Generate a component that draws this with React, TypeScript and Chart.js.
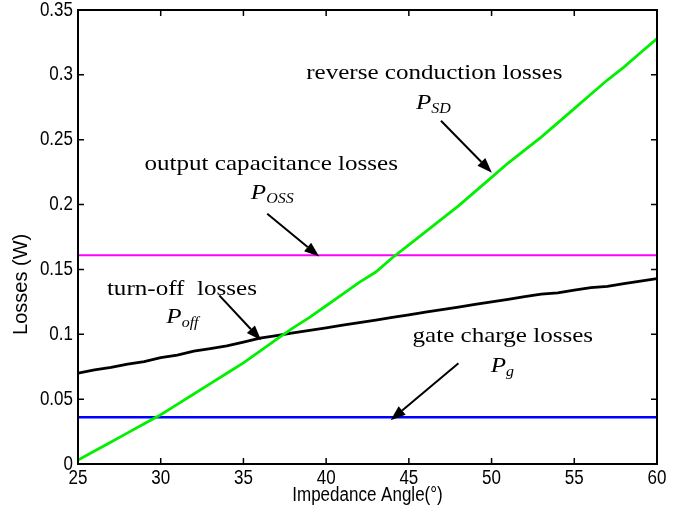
import React, { useEffect, useRef } from 'react';
import { Chart, registerables } from 'chart.js';

Chart.register(...registerables);

// Impedance angle (degrees), one sample per degree
const angles = [
  25, 26, 27, 28, 29, 30, 31, 32, 33, 34, 35, 36, 37, 38, 39, 40, 41, 42,
  43, 44, 45, 46, 47, 48, 49, 50, 51, 52, 53, 54, 55, 56, 57, 58, 59, 60,
];

// Reverse conduction losses P_SD (W)
const reverseConduction = [
  0.003, 0.010, 0.017, 0.024, 0.031, 0.038, 0.046, 0.054, 0.062, 0.070,
  0.078, 0.087, 0.096, 0.105, 0.113, 0.122, 0.131, 0.140, 0.148, 0.159,
  0.169, 0.179, 0.189, 0.199, 0.210, 0.221, 0.232, 0.242, 0.252, 0.263,
  0.274, 0.285, 0.296, 0.306, 0.317, 0.328,
];

// Turn-off losses P_off (W)
const turnOff = [
  0.070, 0.0725, 0.0745, 0.077, 0.079, 0.082, 0.084, 0.087, 0.089, 0.091,
  0.094, 0.097, 0.099, 0.101, 0.103, 0.105, 0.107, 0.109, 0.111, 0.113,
  0.115, 0.117, 0.119, 0.121, 0.123, 0.125, 0.127, 0.129, 0.131, 0.132,
  0.134, 0.136, 0.137, 0.139, 0.141, 0.143,
];

// Constant losses (W)
const outputCapacitance = 0.161; // P_OSS
const gateCharge = 0.036; // P_g

const xTicks = [25, 30, 35, 40, 45, 50, 55, 60];
const xTickLabels = ['25', '30', '35', '40', '45', '50', '55', '60'];
const yTicks = [0, 0.05, 0.1, 0.15, 0.2, 0.25, 0.3, 0.35];
const yTickLabels = ['0', '0.05', '0.1', '0.15', '0.2', '0.25', '0.3', '0.35'];
const xTitle = 'Impedance Angle(°)';
const yTitle = 'Losses (W)';

// Annotation captions, centred on (x, y) in data coordinates
const captions = [
  { text: 'reverse conduction losses', x: 46.54, y: 0.297 },
  { text: 'output capacitance losses', x: 36.68, y: 0.227 },
  { text: 'turn-off  losses', x: 31.28, y: 0.13 },
  { text: 'gate charge losses', x: 50.68, y: 0.0938 },
];

// Symbol labels: main letter plus italic subscript, left edge at x
const symbols = [
  { main: 'P', sub: 'SD', x: 45.43, y: 0.2737 },
  { main: 'P', sub: 'OSS', x: 35.45, y: 0.204 },
  { main: 'P', sub: 'off', x: 30.34, y: 0.109 },
  { main: 'P', sub: 'g', x: 49.95, y: 0.0708 },
];

// Pointer arrows: tail (x1, y1) to head (x2, y2)
const arrows = [
  { x1: 46.94, y1: 0.2646, x2: 50.02, y2: 0.2246 },
  { x1: 36.44, y1: 0.193, x2: 39.58, y2: 0.16 },
  { x1: 33.54, y1: 0.13, x2: 36.07, y2: 0.0954 },
  { x1: 48.0, y1: 0.0777, x2: 43.9, y2: 0.0338 },
];

const SERIF = '"Liberation Serif", "Times New Roman", serif';
const SANS = '"Liberation Sans", Arial, Helvetica, sans-serif';
const SERIF_STRETCH = 1.14; // caption glyphs run wide
const SANS_STRETCH = 0.85; // axis glyphs run narrow

function drawArrow(ctx: CanvasRenderingContext2D, x1: number, y1: number, x2: number, y2: number) {
  const ang = Math.atan2(y2 - y1, x2 - x1);
  const head = 15;
  const half = 5.5;
  const bx = x2 - head * Math.cos(ang);
  const by = y2 - head * Math.sin(ang);
  ctx.beginPath();
  ctx.moveTo(x1, y1);
  ctx.lineTo(bx, by);
  ctx.lineWidth = 2;
  ctx.stroke();
  ctx.beginPath();
  ctx.moveTo(x2, y2);
  ctx.lineTo(bx + half * Math.sin(ang), by - half * Math.cos(ang));
  ctx.lineTo(bx - half * Math.sin(ang), by + half * Math.cos(ang));
  ctx.closePath();
  ctx.fill();
}

// Draws text scaled horizontally by sx; align is where x sits on the text
function scaledText(
  ctx: CanvasRenderingContext2D,
  text: string,
  x: number,
  y: number,
  sx: number,
  align: 'left' | 'center' | 'right',
) {
  const w = ctx.measureText(text).width * sx;
  const left = align === 'left' ? x : align === 'center' ? x - w / 2 : x - w;
  ctx.save();
  ctx.translate(left, y);
  ctx.scale(sx, 1);
  ctx.textAlign = 'left';
  ctx.fillText(text, 0, 0);
  ctx.restore();
  return w;
}

const framePlugin = {
  id: 'matlabFrame',
  afterDraw(chart: any) {
    const { ctx, chartArea: a, scales } = chart;
    const xs = scales.x;
    const ys = scales.y;
    ctx.save();
    ctx.strokeStyle = '#000';
    ctx.fillStyle = '#000';

    // inward tick marks on all four sides
    const L = 6;
    ctx.lineWidth = 1.5;
    ctx.beginPath();
    xTicks.forEach((v) => {
      const px = xs.getPixelForValue(v);
      ctx.moveTo(px, a.bottom);
      ctx.lineTo(px, a.bottom - L);
      ctx.moveTo(px, a.top);
      ctx.lineTo(px, a.top + L);
    });
    yTicks.forEach((v) => {
      const py = ys.getPixelForValue(v);
      ctx.moveTo(a.left, py);
      ctx.lineTo(a.left + L, py);
      ctx.moveTo(a.right, py);
      ctx.lineTo(a.right - L, py);
    });
    ctx.stroke();

    // axes box
    ctx.lineWidth = 2;
    ctx.strokeRect(a.left, a.top, a.right - a.left, a.bottom - a.top);

    // tick labels
    ctx.font = `20px ${SANS}`;
    ctx.textBaseline = 'middle';
    xTicks.forEach((v, i) => {
      scaledText(ctx, xTickLabels[i], xs.getPixelForValue(v), a.bottom + 14, SANS_STRETCH, 'center');
    });
    yTicks.forEach((v, i) => {
      scaledText(ctx, yTickLabels[i], a.left - 5, ys.getPixelForValue(v), SANS_STRETCH, 'right');
    });

    // axis titles
    scaledText(ctx, xTitle, (a.left + a.right) / 2, a.bottom + 31, SANS_STRETCH, 'center');
    ctx.save();
    ctx.textAlign = 'center';
    ctx.translate(21, ys.getPixelForValue(0.1385));
    ctx.rotate(-Math.PI / 2);
    ctx.fillText(yTitle, 0, 0);
    ctx.restore();

    // captions
    ctx.font = `22px ${SERIF}`;
    ctx.textBaseline = 'alphabetic';
    captions.forEach((c) => {
      scaledText(ctx, c.text, xs.getPixelForValue(c.x), ys.getPixelForValue(c.y), SERIF_STRETCH, 'center');
    });

    // symbols with subscripts
    symbols.forEach((s) => {
      const px = xs.getPixelForValue(s.x);
      const py = ys.getPixelForValue(s.y);
      ctx.font = `italic 22px ${SERIF}`;
      const w = scaledText(ctx, s.main, px, py, SERIF_STRETCH, 'left');
      ctx.font = `italic 14px ${SERIF}`;
      scaledText(ctx, s.sub, px + w, py + 4, SERIF_STRETCH, 'left');
    });

    // arrows
    arrows.forEach((r) => {
      drawArrow(
        ctx,
        xs.getPixelForValue(r.x1),
        ys.getPixelForValue(r.y1),
        xs.getPixelForValue(r.x2),
        ys.getPixelForValue(r.y2),
      );
    });
    ctx.restore();
  },
};

export default function App() {
  const canvasRef = useRef<HTMLCanvasElement | null>(null);

  useEffect(() => {
    if (!canvasRef.current) return;
    const pts = (vals: number[]) => angles.map((a, i) => ({ x: a, y: vals[i] }));
    const flat = (v: number) => [
      { x: angles[0], y: v },
      { x: angles[angles.length - 1], y: v },
    ];

    const chart = new Chart(canvasRef.current, {
      type: 'line',
      data: {
        datasets: [
          {
            label: 'P_SD',
            data: pts(reverseConduction),
            borderColor: '#00f000',
            borderWidth: 2.8,
            pointRadius: 0,
            tension: 0,
          },
          {
            label: 'P_OSS',
            data: flat(outputCapacitance),
            borderColor: '#ff00ff',
            borderWidth: 2,
            pointRadius: 0,
          },
          {
            label: 'P_off',
            data: pts(turnOff),
            borderColor: '#000000',
            borderWidth: 2.8,
            pointRadius: 0,
            tension: 0,
          },
          {
            label: 'P_g',
            data: flat(gateCharge),
            borderColor: '#0000ff',
            borderWidth: 2.5,
            pointRadius: 0,
          },
        ],
      },
      options: {
        animation: false,
        responsive: false,
        devicePixelRatio: 1,
        layout: { padding: { top: 10, right: 28, left: 0, bottom: 0 } },
        plugins: {
          legend: { display: false },
          tooltip: { enabled: false },
        },
        scales: {
          x: {
            type: 'linear',
            min: 25,
            max: 60,
            afterFit: (s: any) => {
              s.height = 54;
              s.paddingLeft = 0;
              s.paddingRight = 0;
            },
            afterBuildTicks: (s: any) => {
              s.ticks = xTicks.map((v) => ({ value: v }));
            },
            ticks: { display: false },
            grid: { display: false },
            border: { display: false },
          },
          y: {
            type: 'linear',
            min: 0,
            max: 0.35,
            afterFit: (s: any) => {
              s.width = 78;
              s.paddingTop = 0;
              s.paddingBottom = 0;
            },
            afterBuildTicks: (s: any) => {
              s.ticks = yTicks.map((v) => ({ value: v }));
            },
            ticks: { display: false },
            grid: { display: false },
            border: { display: false },
          },
        },
      },
      plugins: [framePlugin],
    });
    return () => chart.destroy();
  }, []);

  return (
    <div style={{ position: 'fixed', left: 0, top: 0, width: 685, height: 518, background: '#fff' }}>
      <canvas ref={canvasRef} width={685} height={518} style={{ display: 'block' }} />
    </div>
  );
}
